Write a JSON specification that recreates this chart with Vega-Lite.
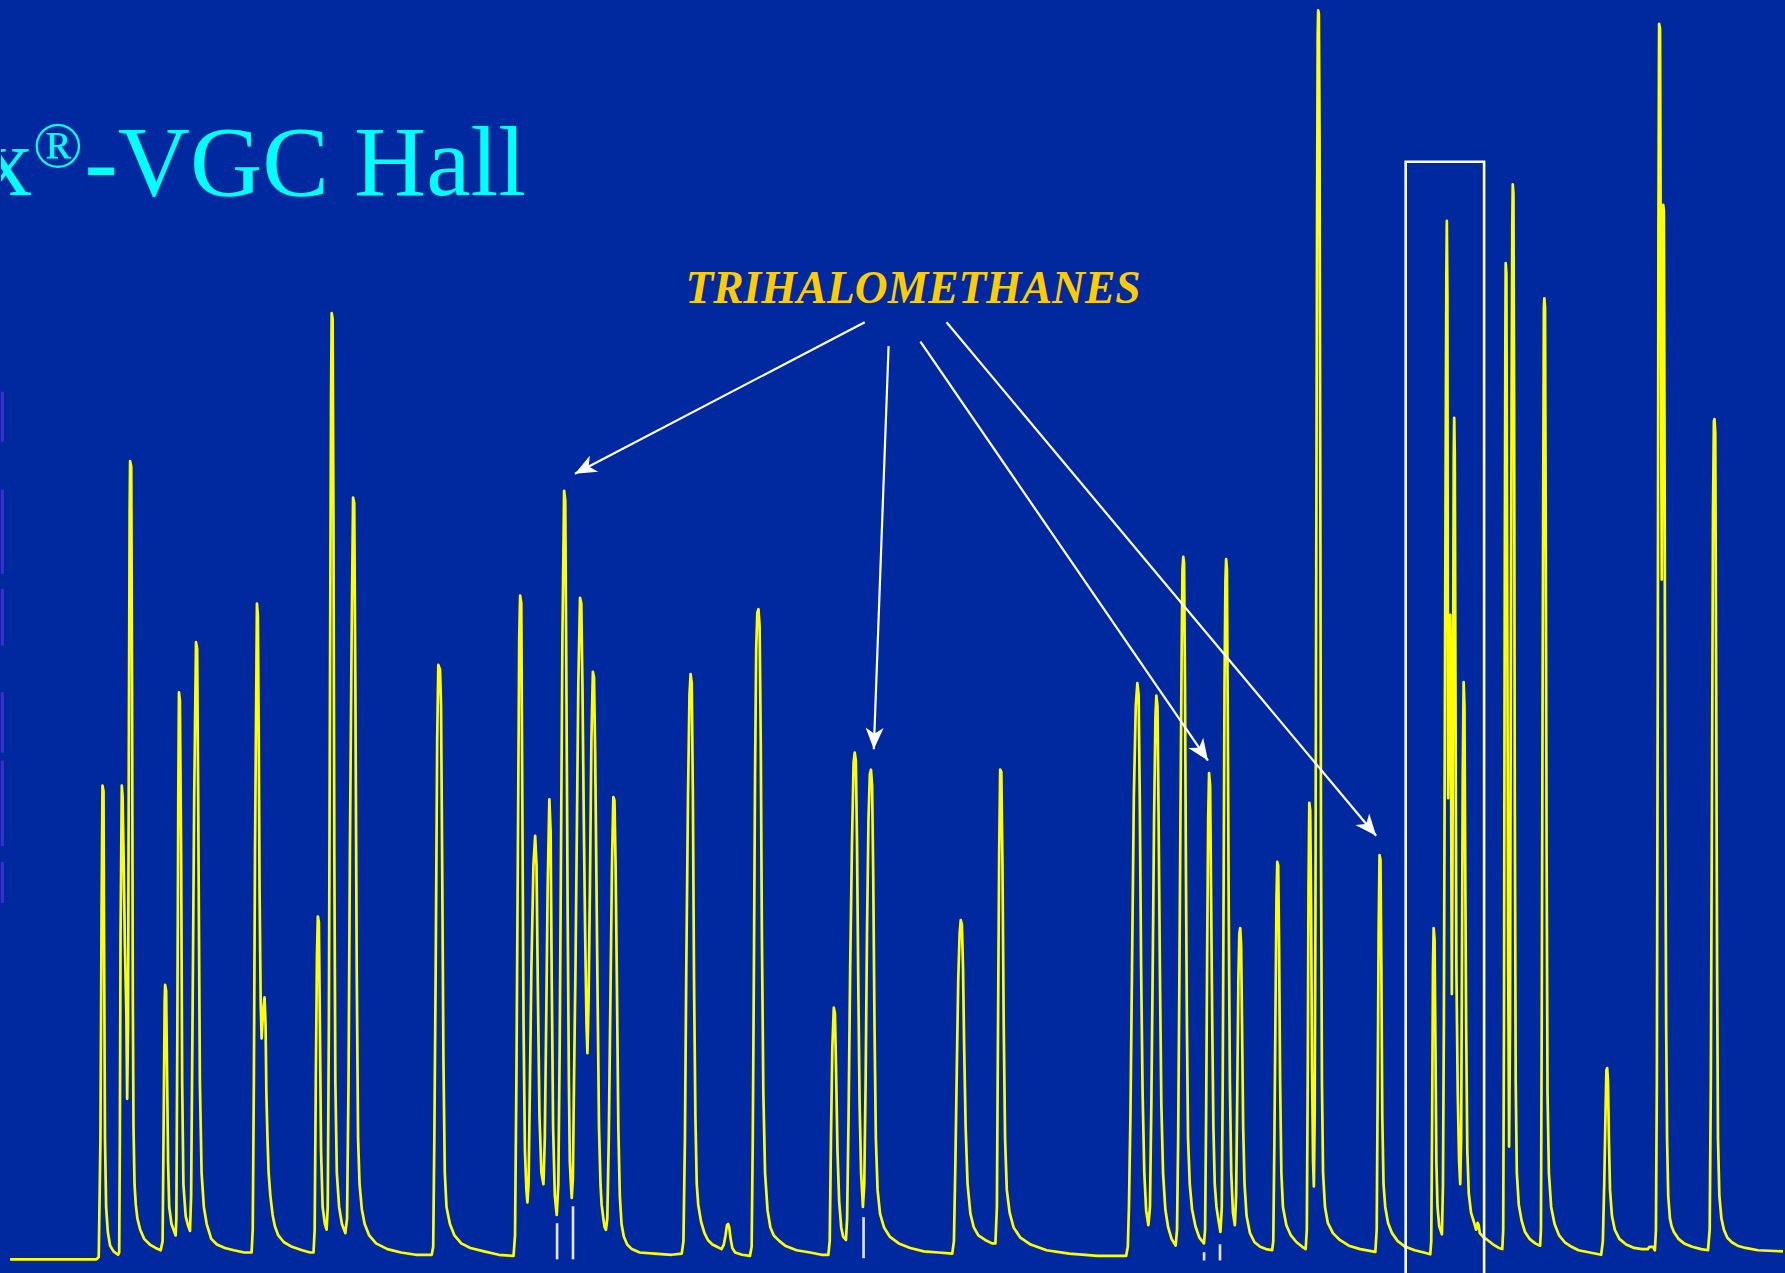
{
  "$schema": "https://vega.github.io/schema/vega-lite/v6.json",
  "width": 1785,
  "height": 1273,
  "autosize": {"type": "fit", "contains": "padding"},
  "padding": 0,
  "background": "#0029a0",
  "config": {"view": {"stroke": null}},
  "datasets": {
    "trace": [
      {"t":8,"s":12},{"t":30,"s":12},{"t":50,"s":12},{"t":68,"s":12},{"t":84,"s":12},
      {"t":86,"s":14},{"t":87.5,"s":118},{"t":88.5,"s":318},{"t":89.3,"s":428},{"t":90.2,"s":423},{"t":90.8,"s":268},{"t":91.5,"s":118},{"t":92.5,"s":58},{"t":94,"s":36},{"t":96,"s":24},{"t":99,"s":19},{"t":103,"s":16},
      {"t":104,"s":18},{"t":104.6,"s":118},{"t":105.2,"s":298},{"t":106.3,"s":428},{"t":107,"s":418},{"t":108,"s":358},{"t":109,"s":288},{"t":110.3,"s":228},{"t":111,"s":153},
      {"t":111.8,"s":218},{"t":112.5,"s":468},{"t":113.2,"s":668},{"t":113.6,"s":713},{"t":114.6,"s":708},{"t":115.3,"s":518},{"t":116,"s":238},{"t":116.6,"s":128},{"t":117.5,"s":78},{"t":118.6,"s":60},{"t":120,"s":48},{"t":122.5,"s":38},{"t":126,"s":30},{"t":131,"s":25},{"t":136,"s":22},{"t":140.5,"s":20},
      {"t":142.2,"s":28},{"t":143,"s":118},{"t":144,"s":238},{"t":144.4,"s":253},{"t":145.3,"s":248},{"t":146.2,"s":168},{"t":147,"s":98},{"t":148,"s":58},{"t":150,"s":43},{"t":153.7,"s":33},
      {"t":154.3,"s":48},{"t":155.2,"s":218},{"t":156,"s":418},{"t":156.6,"s":510},{"t":157.4,"s":503},{"t":158.5,"s":368},{"t":159.4,"s":168},{"t":160.5,"s":78},{"t":162.5,"s":50},{"t":164.5,"s":42},{"t":166.3,"s":37},
      {"t":167.3,"s":68},{"t":168.5,"s":218},{"t":170,"s":418},{"t":171.6,"s":554},{"t":172.6,"s":548},{"t":173.5,"s":418},{"t":175,"s":168},{"t":176.5,"s":88},{"t":178.5,"s":58},{"t":181,"s":43},{"t":185,"s":30},{"t":190,"s":25},{"t":197,"s":22},{"t":205,"s":20},{"t":214,"s":18},{"t":220.5,"s":18},
      {"t":221.5,"s":38},{"t":222.5,"s":168},{"t":223.5,"s":368},{"t":225.2,"s":588},{"t":226,"s":578},{"t":226.8,"s":468},{"t":227.5,"s":338},{"t":228.5,"s":238},{"t":229.3,"s":206},{"t":230.5,"s":228},{"t":231.9,"s":242},{"t":232.8,"s":218},{"t":233.5,"s":158},{"t":234.5,"s":118},{"t":235.5,"s":88},{"t":237,"s":68},{"t":239,"s":51},{"t":241,"s":41},{"t":244,"s":33},{"t":249,"s":27},{"t":256,"s":23},{"t":265,"s":20},{"t":272,"s":18},{"t":275,"s":18},
      {"t":276,"s":38},{"t":277,"s":168},{"t":278,"s":278},{"t":278.8,"s":313},{"t":279.7,"s":308},{"t":280.6,"s":218},{"t":281.6,"s":108},{"t":283,"s":58},{"t":285,"s":43},{"t":286.5,"s":38},
      {"t":287.5,"s":58},{"t":288.5,"s":218},{"t":289.5,"s":518},{"t":290.4,"s":768},{"t":291,"s":843},{"t":291.8,"s":838},{"t":292.5,"s":668},{"t":293.3,"s":368},{"t":294.2,"s":168},{"t":295.5,"s":88},{"t":297.5,"s":58},{"t":300,"s":43},{"t":303,"s":35},
      {"t":304.5,"s":48},{"t":305.8,"s":168},{"t":307,"s":368},{"t":308.5,"s":558},{"t":309.8,"s":681},{"t":310.8,"s":676},{"t":311.8,"s":518},{"t":313,"s":268},{"t":314.2,"s":118},{"t":315.5,"s":78},{"t":317.5,"s":56},{"t":320,"s":43},{"t":324,"s":33},{"t":330,"s":26},{"t":340,"s":21},{"t":352,"s":18},{"t":365,"s":16},{"t":379,"s":16},
      {"t":380.3,"s":23},{"t":381.3,"s":118},{"t":382.5,"s":268},{"t":383.8,"s":468},{"t":384.8,"s":534},{"t":386.3,"s":530},{"t":387.2,"s":498},{"t":388.2,"s":358},{"t":389.3,"s":188},{"t":390.5,"s":88},{"t":392,"s":58},{"t":395,"s":43},{"t":399,"s":33},{"t":405,"s":26},{"t":413,"s":22},{"t":425,"s":19},{"t":438,"s":16},{"t":451,"s":15},
      {"t":452.3,"s":33},{"t":453.5,"s":168},{"t":454.8,"s":368},{"t":456,"s":558},{"t":456.8,"s":595},{"t":457.8,"s":588},{"t":458.7,"s":418},{"t":459.8,"s":218},{"t":461,"s":108},{"t":462.3,"s":73},{"t":463.2,"s":62},{"t":464.2,"s":78},{"t":465.3,"s":158},{"t":466.7,"s":268},{"t":468.5,"s":358},{"t":470,"s":384},{"t":471.2,"s":358},{"t":472.4,"s":248},{"t":473.8,"s":138},{"t":475.5,"s":88},{"t":477.3,"s":78},{"t":478.5,"s":118},{"t":479.7,"s":218},{"t":481,"s":338},{"t":482.5,"s":416},{"t":483.6,"s":388},{"t":484.6,"s":258},{"t":485.8,"s":128},{"t":487.3,"s":68},{"t":489,"s":51},{"t":490.4,"s":78},{"t":491.6,"s":198},{"t":492.8,"s":378},{"t":494,"s":558},{"t":495.5,"s":687},{"t":496.5,"s":678},{"t":497.5,"s":518},{"t":498.6,"s":318},{"t":499.7,"s":168},{"t":500.5,"s":98},{"t":501.5,"s":78},{"t":502.2,"s":66},{"t":503.2,"s":83},{"t":504.2,"s":168},{"t":505.5,"s":268},{"t":506.8,"s":398},{"t":508,"s":518},{"t":509.5,"s":593},{"t":510.6,"s":588},{"t":511.6,"s":518},{"t":512.8,"s":398},{"t":514,"s":298},{"t":515.2,"s":218},{"t":516,"s":193},{"t":517,"s":238},{"t":518.2,"s":338},{"t":519.5,"s":468},{"t":520.8,"s":528},{"t":521.8,"s":523},{"t":522.8,"s":458},{"t":523.8,"s":358},{"t":525,"s":238},{"t":526.2,"s":128},{"t":527.5,"s":78},{"t":528.5,"s":60},{"t":530,"s":48},{"t":531.2,"s":40},{"t":532.3,"s":38},{"t":533.5,"s":48},{"t":534.8,"s":118},{"t":536.2,"s":238},{"t":537.6,"s":358},{"t":538.8,"s":418},{"t":539.8,"s":415},{"t":540.8,"s":358},{"t":542,"s":248},{"t":543.2,"s":128},{"t":544.5,"s":68},{"t":546,"s":43},{"t":548,"s":32},{"t":551,"s":25},{"t":555,"s":21},{"t":562,"s":18},{"t":575,"s":17},{"t":590,"s":16},{"t":599,"s":17},
      {"t":600.5,"s":28},{"t":601.8,"s":118},{"t":603,"s":268},{"t":604.5,"s":418},{"t":605.8,"s":508},{"t":606.8,"s":526},{"t":607.8,"s":518},{"t":608.8,"s":418},{"t":609.8,"s":258},{"t":611,"s":138},{"t":612.2,"s":78},{"t":613.5,"s":60},{"t":616,"s":45},{"t":619,"s":35},{"t":622,"s":29},{"t":626,"s":25},{"t":630,"s":23},{"t":634,"s":21},{"t":636,"s":25},{"t":637.5,"s":33},{"t":638.8,"s":42},{"t":639.8,"s":43},{"t":640.8,"s":40},{"t":642,"s":30},{"t":643.5,"s":22},{"t":646,"s":18},{"t":652,"s":16},{"t":659,"s":15},
      {"t":660.5,"s":23},{"t":661.5,"s":118},{"t":662.5,"s":268},{"t":663.5,"s":438},{"t":664.5,"s":548},{"t":665.5,"s":580},{"t":666.5,"s":583},{"t":667.5,"s":568},{"t":668.5,"s":468},{"t":669.5,"s":298},{"t":670.8,"s":158},{"t":672.3,"s":88},{"t":674.5,"s":55},{"t":677,"s":40},{"t":680,"s":33},{"t":685,"s":28},{"t":690,"s":24},{"t":700,"s":20},{"t":712,"s":18},{"t":722,"s":16},{"t":728,"s":16},
      {"t":729.2,"s":28},{"t":730.3,"s":118},{"t":731.5,"s":198},{"t":732.8,"s":233},{"t":733.8,"s":228},{"t":734.8,"s":178},{"t":736,"s":108},{"t":737.5,"s":63},{"t":739.3,"s":40},{"t":741,"s":32},{"t":743.5,"s":29},
      {"t":744.5,"s":48},{"t":745.8,"s":138},{"t":747.2,"s":268},{"t":748.8,"s":378},{"t":750.2,"s":448},{"t":751.2,"s":457},{"t":752.2,"s":450},{"t":753.2,"s":378},{"t":754.3,"s":258},{"t":755.5,"s":148},{"t":756.8,"s":88},{"t":758.4,"s":58},
      {"t":759.6,"s":78},{"t":760.8,"s":168},{"t":762,"s":298},{"t":763.3,"s":398},{"t":764.5,"s":438},{"t":765.5,"s":442},{"t":766.5,"s":428},{"t":767.5,"s":348},{"t":768.6,"s":218},{"t":769.8,"s":118},{"t":771.3,"s":73},{"t":773.5,"s":52},{"t":777,"s":40},{"t":782,"s":32},{"t":790,"s":26},{"t":800,"s":22},{"t":812,"s":19},{"t":825,"s":18},{"t":837,"s":17},
      {"t":838.5,"s":28},{"t":839.8,"s":98},{"t":841,"s":178},{"t":842.3,"s":258},{"t":843.5,"s":298},{"t":844.5,"s":310},{"t":845.5,"s":306},{"t":846.5,"s":268},{"t":847.5,"s":198},{"t":848.8,"s":128},{"t":850.5,"s":78},{"t":853,"s":52},{"t":856,"s":40},{"t":860,"s":33},{"t":866,"s":29},{"t":872,"s":26},{"t":875,"s":26},
      {"t":876.3,"s":58},{"t":877.3,"s":218},{"t":878.3,"s":368},{"t":879.2,"s":442},{"t":880.2,"s":440},{"t":881.2,"s":358},{"t":882.3,"s":218},{"t":883.5,"s":118},{"t":885,"s":73},{"t":887.5,"s":53},{"t":891,"s":40},{"t":897,"s":31},{"t":906,"s":25},{"t":920,"s":20},{"t":940,"s":17},{"t":965,"s":15},{"t":990,"s":15},
      {"t":991.5,"s":23},{"t":992.5,"s":58},{"t":993.8,"s":138},{"t":995.2,"s":268},{"t":996.8,"s":418},{"t":998.5,"s":498},{"t":999.9,"s":518},{"t":1001,"s":508},{"t":1002,"s":418},{"t":1003.2,"s":268},{"t":1004.5,"s":158},{"t":1006,"s":88},{"t":1007.6,"s":55},{"t":1009.6,"s":42},{"t":1011,"s":58},{"t":1012.2,"s":148},{"t":1013.4,"s":268},{"t":1014.6,"s":398},{"t":1015.8,"s":488},{"t":1016.6,"s":507},{"t":1017.6,"s":498},{"t":1018.6,"s":398},{"t":1019.8,"s":258},{"t":1021,"s":148},{"t":1022.5,"s":88},{"t":1024.5,"s":56},{"t":1027,"s":40},{"t":1030,"s":30},{"t":1033.6,"s":24},{"t":1034.8,"s":38},{"t":1035.8,"s":118},{"t":1036.8,"s":248},{"t":1037.8,"s":398},{"t":1038.8,"s":538},{"t":1039.6,"s":618},{"t":1040.3,"s":629},{"t":1041,"s":623},{"t":1041.8,"s":518},{"t":1042.6,"s":358},{"t":1043.5,"s":218},{"t":1044.5,"s":118},{"t":1046,"s":78},{"t":1048,"s":56},{"t":1051,"s":41},{"t":1054.5,"s":31},{"t":1058.5,"s":26},{"t":1059.5,"s":38},{"t":1060.4,"s":138},{"t":1061.3,"s":278},{"t":1062.2,"s":398},{"t":1063,"s":439},{"t":1063.9,"s":428},{"t":1064.8,"s":328},{"t":1065.8,"s":218},{"t":1066.8,"s":128},{"t":1068,"s":78},{"t":1069.5,"s":58},{"t":1071,"s":48},{"t":1073,"s":36},{"t":1074.2,"s":58},{"t":1075,"s":168},{"t":1075.8,"s":338},{"t":1076.6,"s":518},{"t":1077.4,"s":608},{"t":1078,"s":627},{"t":1078.7,"s":618},{"t":1079.4,"s":498},{"t":1080.3,"s":318},{"t":1081.3,"s":168},{"t":1082.5,"s":88},{"t":1084,"s":53},{"t":1085.7,"s":42},{"t":1086.8,"s":68},{"t":1087.8,"s":158},{"t":1088.8,"s":258},{"t":1089.6,"s":298},{"t":1090.4,"s":303},{"t":1091.2,"s":288},{"t":1092,"s":218},{"t":1093,"s":128},{"t":1094.2,"s":78},{"t":1096,"s":50},{"t":1099,"s":35},{"t":1103,"s":27},{"t":1108,"s":23},{"t":1113,"s":21},{"t":1118.5,"s":20},
      {"t":1119.5,"s":28},{"t":1120.5,"s":118},{"t":1121.5,"s":238},{"t":1122.3,"s":328},{"t":1123,"s":361},{"t":1123.8,"s":358},{"t":1124.6,"s":288},{"t":1125.5,"s":168},{"t":1126.6,"s":88},{"t":1128,"s":58},{"t":1131,"s":42},{"t":1135,"s":33},{"t":1140,"s":27},{"t":1145,"s":23},{"t":1148,"s":21},
      {"t":1149,"s":38},{"t":1149.8,"s":168},{"t":1150.5,"s":338},{"t":1151.2,"s":413},{"t":1152,"s":406},{"t":1152.8,"s":318},{"t":1153.6,"s":178},{"t":1154.5,"s":98},{"t":1155.2,"s":76},{"t":1155.9,"s":138},{"t":1156.6,"s":318},{"t":1157.3,"s":618},{"t":1158,"s":918},{"t":1158.6,"s":1088},{"t":1159,"s":1109},{"t":1159.6,"s":1106},{"t":1160.2,"s":998},{"t":1160.8,"s":718},{"t":1161.5,"s":368},{"t":1162.3,"s":168},{"t":1163.3,"s":88},{"t":1165,"s":58},{"t":1167.5,"s":44},{"t":1172,"s":35},{"t":1178,"s":29},{"t":1186,"s":24},{"t":1196,"s":21},{"t":1209.3,"s":18.5},
      {"t":1210.5,"s":38},{"t":1211.4,"s":168},{"t":1212.2,"s":298},{"t":1213,"s":367},{"t":1213.8,"s":363},{"t":1214.6,"s":268},{"t":1215.4,"s":138},{"t":1216.5,"s":78},{"t":1218,"s":58},{"t":1220.5,"s":44},{"t":1224,"s":35},{"t":1229,"s":28},{"t":1235.7,"s":23},{"t":1244,"s":20},{"t":1252,"s":18},{"t":1257.6,"s":16.4},
      {"t":1258.5,"s":28},{"t":1259.3,"s":138},{"t":1260,"s":268},{"t":1260.6,"s":303},{"t":1261.4,"s":293},{"t":1262.2,"s":198},{"t":1263,"s":98},{"t":1264,"s":58},{"t":1265.5,"s":41},{"t":1267.9,"s":34},
      {"t":1268.8,"s":78},{"t":1269.6,"s":218},{"t":1270.4,"s":468},{"t":1271.2,"s":718},{"t":1271.8,"s":878},{"t":1272.2,"s":924},{"t":1272.7,"s":858},{"t":1273,"s":618},{"t":1273.4,"s":417},{"t":1274,"s":478},{"t":1274.6,"s":558},{"t":1275.2,"s":578},{"t":1275.8,"s":518},{"t":1276.2,"s":358},{"t":1276.6,"s":245},{"t":1277.2,"s":368},{"t":1277.8,"s":568},{"t":1278.3,"s":718},{"t":1278.7,"s":751},{"t":1279.2,"s":718},{"t":1279.8,"s":518},{"t":1280.6,"s":268},{"t":1281.8,"s":158},{"t":1283,"s":98},{"t":1284,"s":78},{"t":1284.8,"s":118},{"t":1285.5,"s":268},{"t":1286.2,"s":438},{"t":1287,"s":519},{"t":1287.7,"s":498},{"t":1288.4,"s":358},{"t":1289.2,"s":218},{"t":1290.2,"s":108},{"t":1291.5,"s":70},{"t":1293.5,"s":53},{"t":1296,"s":45},{"t":1298,"s":38},{"t":1299.3,"s":44},{"t":1300.2,"s":42},{"t":1301.2,"s":35},{"t":1304,"s":32},{"t":1308,"s":29},{"t":1313,"s":25},{"t":1318,"s":22},{"t":1321,"s":21},
      {"t":1321.8,"s":38},{"t":1322.5,"s":218},{"t":1323.2,"s":618},{"t":1323.7,"s":818},{"t":1324,"s":887},{"t":1324.6,"s":878},{"t":1325.3,"s":618},{"t":1326.2,"s":268},{"t":1327,"s":111},{"t":1327.8,"s":218},{"t":1328.5,"s":518},{"t":1329.2,"s":768},{"t":1329.8,"s":918},{"t":1330.2,"s":956},{"t":1330.8,"s":948},{"t":1331.4,"s":768},{"t":1332,"s":418},{"t":1332.8,"s":168},{"t":1333.8,"s":88},{"t":1335.5,"s":60},{"t":1338,"s":46},{"t":1341,"s":36},{"t":1345,"s":30},{"t":1350,"s":26},{"t":1354.3,"s":24},
      {"t":1355,"s":38},{"t":1355.7,"s":218},{"t":1356.5,"s":518},{"t":1357.2,"s":738},{"t":1357.6,"s":848},{"t":1358,"s":856},{"t":1358.6,"s":848},{"t":1359.2,"s":668},{"t":1360,"s":368},{"t":1360.8,"s":158},{"t":1362,"s":88},{"t":1364,"s":58},{"t":1367,"s":43},{"t":1371,"s":33},{"t":1376,"s":27},{"t":1382,"s":23},{"t":1388,"s":20},{"t":1398,"s":18},{"t":1408,"s":16},
      {"t":1409.5,"s":28},{"t":1410.7,"s":78},{"t":1411.8,"s":138},{"t":1412.6,"s":178},{"t":1413.3,"s":180},{"t":1414,"s":168},{"t":1414.8,"s":118},{"t":1415.8,"s":73},{"t":1417.5,"s":50},{"t":1420,"s":38},{"t":1424,"s":30},{"t":1430,"s":25},{"t":1437,"s":22},{"t":1444,"s":21},{"t":1449,"s":21},{"t":1450.5,"s":23},{"t":1453.5,"s":23},{"t":1455.3,"s":20},
      {"t":1456.2,"s":38},{"t":1457,"s":168},{"t":1457.8,"s":518},{"t":1458.4,"s":918},{"t":1459,"s":1097},{"t":1459.8,"s":1093},{"t":1460.5,"s":868},{"t":1461.3,"s":609},{"t":1462,"s":818},{"t":1462.6,"s":938},{"t":1463.2,"s":933},{"t":1463.8,"s":718},{"t":1464.4,"s":418},{"t":1465.2,"s":218},{"t":1466,"s":118},{"t":1467,"s":68},{"t":1468.5,"s":48},{"t":1470,"s":41},{"t":1472,"s":36},{"t":1476,"s":30},{"t":1481,"s":26},{"t":1488,"s":23},{"t":1496,"s":21},{"t":1502,"s":20},
      {"t":1503.5,"s":38},{"t":1504.5,"s":168},{"t":1505.5,"s":418},{"t":1506.4,"s":668},{"t":1507.2,"s":748},{"t":1507.7,"s":750},{"t":1508.4,"s":738},{"t":1509.2,"s":518},{"t":1510,"s":268},{"t":1510.8,"s":118},{"t":1512,"s":68},{"t":1513.8,"s":48},{"t":1516,"s":38},{"t":1519,"s":31},{"t":1523,"s":27},{"t":1528,"s":24},{"t":1535,"s":22},{"t":1546,"s":20},{"t":1568,"s":19}
    ],
    "markers": [
      {"t":489.3,"s0":12,"s1":43.7},
      {"t":503.3,"s0":12,"s1":58.6},
      {"t":759,"s0":13,"s1":49},
      {"t":1058.6,"s0":11,"s1":18.2},
      {"t":1072.6,"s0":11,"s1":25.2}
    ],
    "arrows": [
      {"t":760,"s":835,"t2":505,"s2":702},
      {"t":781,"s":814,"t2":768,"s2":460},
      {"t":809,"s":818,"t2":1062,"s2":450},
      {"t":832,"s":835,"t2":1210,"s2":384}
    ],
    "edge": [
      {"s0":730,"s1":774},
      {"s0":614,"s1":688},
      {"s0":551,"s1":601},
      {"s0":457,"s1":510},
      {"s0":375,"s1":450},
      {"s0":325,"s1":361}
    ]
  },
  "layer": [
    {
      "data": {"name": "edge"},
      "mark": {"type": "rule", "color": "#3a32c8", "strokeWidth": 3},
      "encoding": {
        "x": {"datum": 1.2, "type": "quantitative", "scale": {"domain": [0, 1568], "nice": false, "zero": false}, "axis": null},
        "y": {"field": "s0", "type": "quantitative", "scale": {"domain": [0, 1118], "nice": false, "zero": false}, "axis": null},
        "y2": {"field": "s1"}
      }
    },
    {
      "data": {"name": "trace"},
      "mark": {"type": "line", "color": "#ffff00", "strokeWidth": 2.7, "strokeJoin": "round"},
      "encoding": {
        "x": {"field": "t", "type": "quantitative", "scale": {"domain": [0, 1568], "nice": false, "zero": false}, "axis": null},
        "y": {"field": "s", "type": "quantitative", "scale": {"domain": [0, 1118], "nice": false, "zero": false}, "axis": null}
      }
    },
    {
      "data": {"values": [{}]},
      "mark": {"type": "rect", "filled": false, "stroke": "#ffffff", "strokeWidth": 2.6, "clip": true},
      "encoding": {
        "x": {"datum": 1236, "type": "quantitative"},
        "x2": {"datum": 1305},
        "y": {"datum": 976, "type": "quantitative"},
        "y2": {"datum": -30}
      }
    },
    {
      "data": {"name": "markers"},
      "mark": {"type": "rule", "color": "#e6e6ff", "strokeWidth": 2.6},
      "encoding": {
        "x": {"field": "t", "type": "quantitative"},
        "y": {"field": "s0", "type": "quantitative"},
        "y2": {"field": "s1"}
      }
    },
    {
      "data": {"name": "arrows"},
      "mark": {"type": "rule", "color": "#ffffff", "strokeWidth": 2.2},
      "encoding": {
        "x": {"field": "t", "type": "quantitative"},
        "y": {"field": "s", "type": "quantitative"},
        "x2": {"field": "t2"},
        "y2": {"field": "s2"}
      }
    },
    {
      "data": {"name": "arrows"},
      "transform": [
        {"calculate": "atan2(datum.t2 - datum.t, datum.s2 - datum.s) * 180 / PI", "as": "heading"}
      ],
      "mark": {"type": "point", "shape": "M0,0L-0.42,1L0,0.72L0.42,1Z", "filled": true, "color": "#ffffff", "opacity": 1, "size": 1850, "strokeWidth": 0},
      "encoding": {
        "x": {"field": "t2", "type": "quantitative"},
        "y": {"field": "s2", "type": "quantitative"},
        "angle": {"field": "heading", "type": "quantitative", "scale": null}
      }
    },
    {
      "data": {"values": [{}]},
      "mark": {"type": "text", "text": "x", "font": "Liberation Serif", "fontSize": 100, "color": "#00ffff", "align": "right", "baseline": "alphabetic", "clip": true},
      "encoding": {
        "x": {"datum": 27.5, "type": "quantitative"},
        "y": {"datum": 947, "type": "quantitative"}
      }
    },
    {
      "data": {"values": [{}]},
      "mark": {"type": "text", "text": "®", "font": "Liberation Serif", "fontSize": 66, "color": "#00ffff", "align": "center", "baseline": "alphabetic"},
      "encoding": {
        "x": {"datum": 50, "type": "quantitative"},
        "y": {"datum": 971.5, "type": "quantitative"}
      }
    },
    {
      "data": {"values": [{}]},
      "mark": {"type": "text", "text": "-VGC Hall", "font": "Liberation Serif", "fontSize": 100, "color": "#00ffff", "align": "left", "baseline": "alphabetic"},
      "encoding": {
        "x": {"datum": 73.5, "type": "quantitative"},
        "y": {"datum": 947, "type": "quantitative"}
      }
    },
    {
      "data": {"values": [{}]},
      "mark": {"type": "text", "text": "TRIHALOMETHANES", "font": "Liberation Serif", "fontSize": 45.5, "fontWeight": "bold", "fontStyle": "italic", "color": "#ffcc00", "align": "center", "baseline": "alphabetic"},
      "encoding": {
        "x": {"datum": 802.5, "type": "quantitative"},
        "y": {"datum": 852, "type": "quantitative"}
      }
    }
  ]
}
